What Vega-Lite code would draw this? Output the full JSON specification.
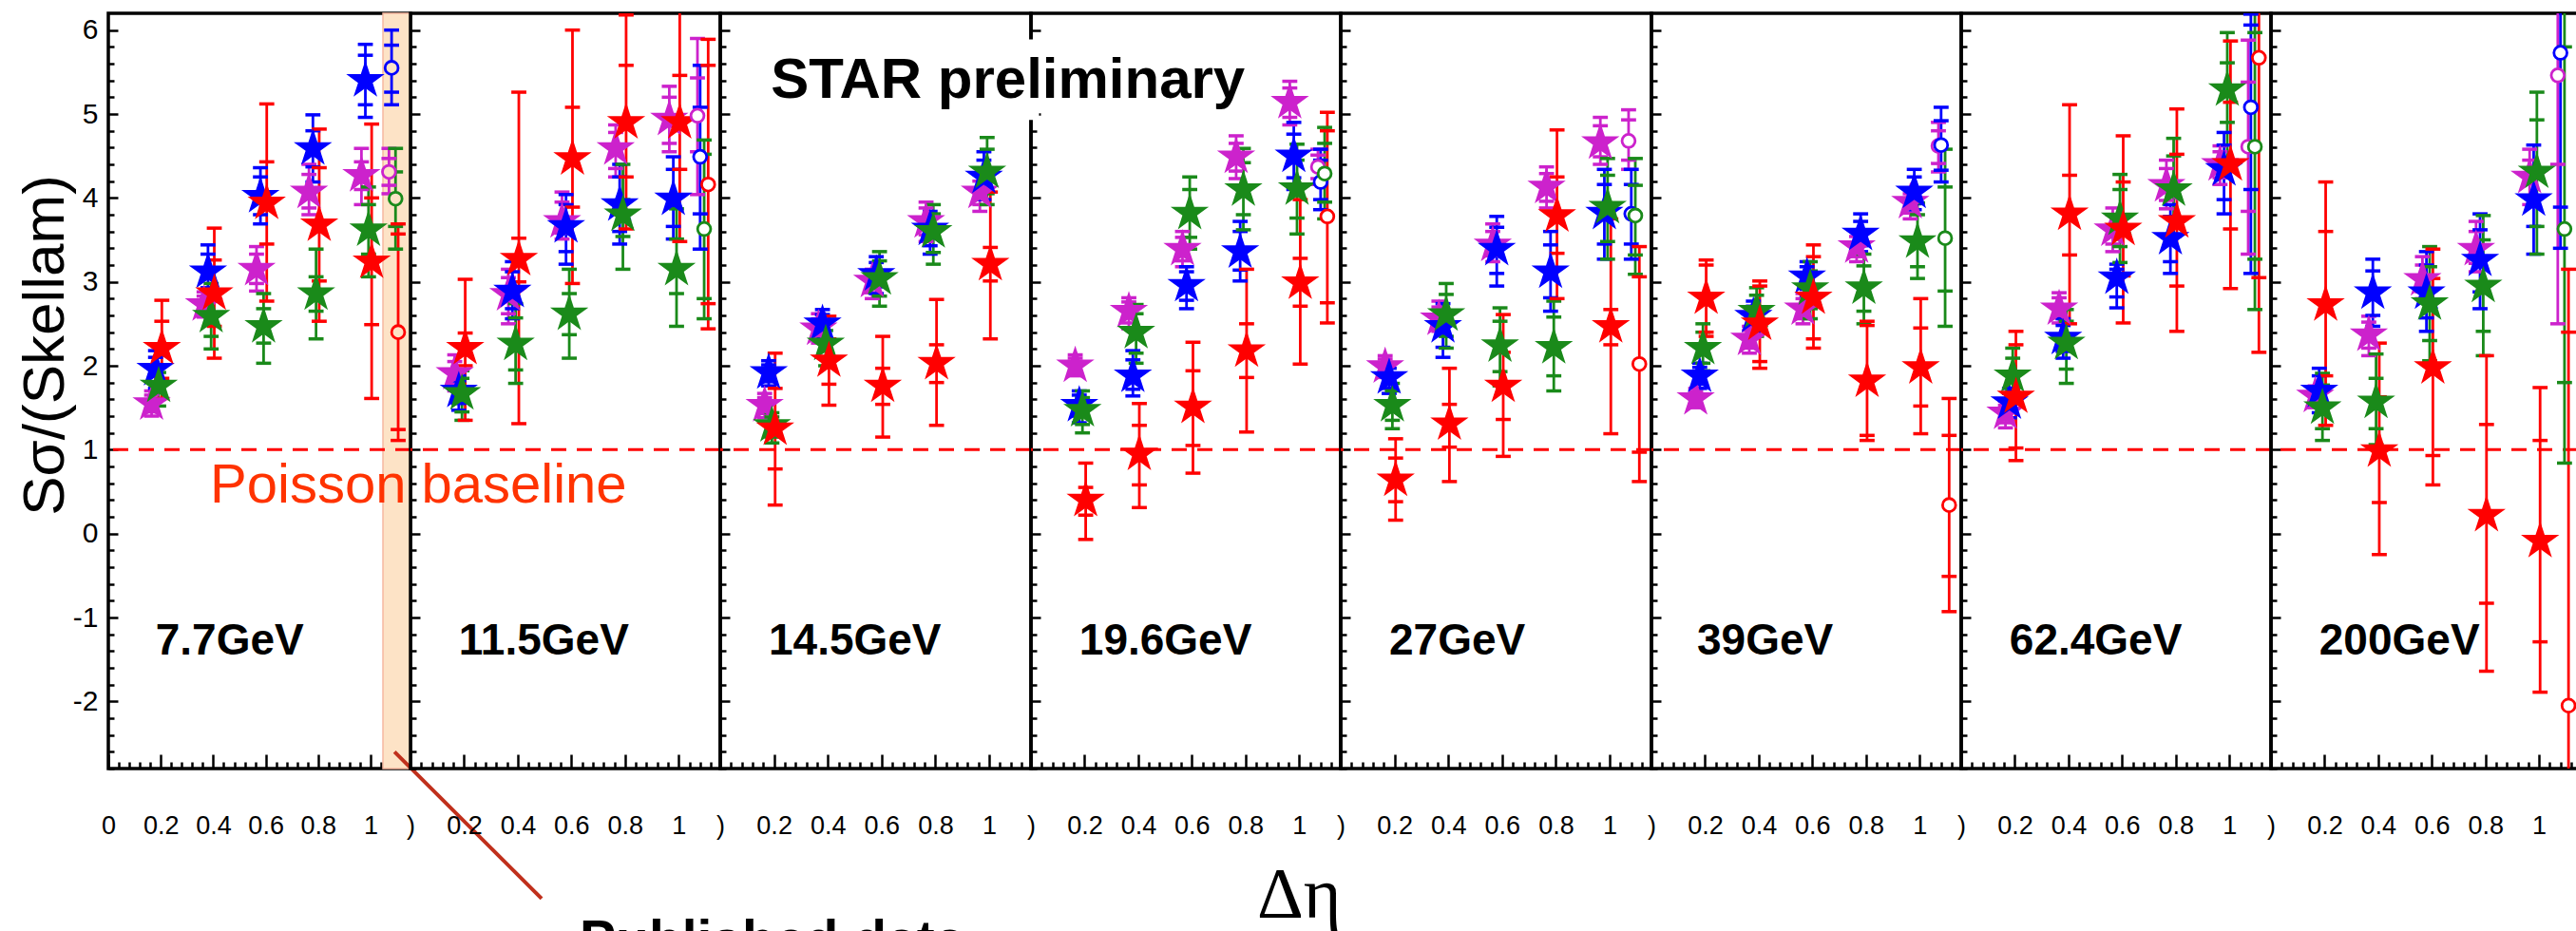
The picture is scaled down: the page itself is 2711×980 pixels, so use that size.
{
"$schema":"https://vega.github.io/schema/vega-lite/v6.json",
"background":"white",
"padding":{"left":14,"top":11,"right":0,"bottom":0},
"spacing":0,
"bounds":"flush",
"config":{"view":{"stroke":"black","strokeWidth":3.5},"font":"Liberation Sans",
 "axis":{"labelFont":"Liberation Sans","titleFont":"Liberation Sans","domain":false,"grid":false,"tickColor":"black","tickWidth":2.5,"labelFlush":false,"labelOverlap":false,"labelBound":false,"labelColor":"black"},
 "axisX":{"labelFontSize":27,"labelPadding":62},
 "axisY":{"labelFontSize":30,"labelPadding":21},
 "concat":{"spacing":0}},
"resolve":{"scale":{"x":"independent","y":"independent","color":"independent"}},
"datasets":{
"d77":[
{"s":"s1","p":0,"x":0.165,"y":1.55,"lo":1.40,"hi":1.70,"slo":1.45,"shi":1.65},
{"s":"s1","p":0,"x":0.365,"y":2.73,"lo":2.58,"hi":2.88,"slo":2.63,"shi":2.83},
{"s":"s1","p":0,"x":0.565,"y":3.15,"lo":2.89,"hi":3.42,"slo":2.98,"shi":3.33},
{"s":"s1","p":0,"x":0.765,"y":4.07,"lo":3.80,"hi":4.40,"slo":3.88,"shi":4.28},
{"s":"s1","p":0,"x":0.965,"y":4.27,"lo":3.92,"hi":4.59,"slo":4.10,"shi":4.43},
{"s":"s1","p":1,"x":1.07,"y":4.31,"lo":4.05,"hi":4.59,"slo":4.15,"shi":4.47},
{"s":"s2","p":0,"x":0.18,"y":1.96,"lo":1.73,"hi":2.18,"slo":1.81,"shi":2.10},
{"s":"s2","p":0,"x":0.38,"y":3.12,"lo":2.83,"hi":3.44,"slo":2.93,"shi":3.33},
{"s":"s2","p":0,"x":0.58,"y":4.02,"lo":3.69,"hi":4.36,"slo":3.80,"shi":4.25},
{"s":"s2","p":0,"x":0.78,"y":4.59,"lo":4.19,"hi":4.99,"slo":4.37,"shi":4.80},
{"s":"s2","p":0,"x":0.98,"y":5.40,"lo":4.96,"hi":5.83,"slo":5.11,"shi":5.70},
{"s":"s2","p":1,"x":1.08,"y":5.55,"lo":5.11,"hi":6.00,"slo":5.26,"shi":5.82},
{"s":"s3","p":0,"x":0.192,"y":1.76,"lo":1.52,"hi":2.00,"slo":1.60,"shi":1.92},
{"s":"s3","p":0,"x":0.392,"y":2.59,"lo":2.20,"hi":2.98,"slo":2.35,"shi":2.84},
{"s":"s3","p":0,"x":0.592,"y":2.47,"lo":2.03,"hi":2.86,"slo":2.27,"shi":2.68},
{"s":"s3","p":0,"x":0.792,"y":2.86,"lo":2.32,"hi":3.39,"slo":2.65,"shi":3.06},
{"s":"s3","p":0,"x":0.992,"y":3.62,"lo":3.06,"hi":4.13,"slo":3.33,"shi":3.92},
{"s":"s3","p":1,"x":1.095,"y":3.99,"lo":3.39,"hi":4.59,"slo":3.66,"shi":4.31},
{"s":"s4","p":0,"x":0.204,"y":2.21,"lo":1.61,"hi":2.78,"slo":1.85,"shi":2.53},
{"s":"s4","p":0,"x":0.404,"y":2.86,"lo":2.09,"hi":3.64,"slo":2.47,"shi":3.26},
{"s":"s4","p":0,"x":0.604,"y":3.94,"lo":2.77,"hi":5.12,"slo":3.45,"shi":4.43},
{"s":"s4","p":0,"x":0.804,"y":3.68,"lo":2.53,"hi":4.82,"slo":3.01,"shi":4.36},
{"s":"s4","p":0,"x":1.004,"y":3.24,"lo":1.61,"hi":4.88,"slo":2.49,"shi":4.00},
{"s":"s4","p":1,"x":1.105,"y":2.40,"lo":1.11,"hi":3.69,"slo":1.24,"shi":3.57}
],
"d115":[
{"s":"s1","p":0,"x":0.165,"y":1.91,"lo":1.70,"hi":2.13,"slo":1.78,"shi":2.05},
{"s":"s1","p":0,"x":0.365,"y":2.85,"lo":2.50,"hi":3.15,"slo":2.62,"shi":3.05},
{"s":"s1","p":0,"x":0.565,"y":3.72,"lo":3.51,"hi":4.07,"slo":3.58,"shi":3.95},
{"s":"s1","p":0,"x":0.765,"y":4.59,"lo":4.25,"hi":4.87,"slo":4.35,"shi":4.78},
{"s":"s1","p":0,"x":0.965,"y":4.94,"lo":4.55,"hi":5.33,"slo":4.65,"shi":5.20},
{"s":"s1","p":1,"x":1.07,"y":4.98,"lo":4.04,"hi":5.90,"slo":4.55,"shi":5.43},
{"s":"s2","p":0,"x":0.18,"y":1.70,"lo":1.47,"hi":1.88,"slo":1.55,"shi":1.82},
{"s":"s2","p":0,"x":0.38,"y":2.89,"lo":2.56,"hi":3.24,"slo":2.68,"shi":3.12},
{"s":"s2","p":0,"x":0.58,"y":3.66,"lo":3.21,"hi":4.04,"slo":3.36,"shi":3.92},
{"s":"s2","p":0,"x":0.78,"y":3.92,"lo":3.45,"hi":4.40,"slo":3.60,"shi":4.25},
{"s":"s2","p":0,"x":0.98,"y":3.99,"lo":3.51,"hi":4.49,"slo":3.66,"shi":4.34},
{"s":"s2","p":1,"x":1.08,"y":4.49,"lo":3.39,"hi":5.58,"slo":3.81,"shi":5.08},
{"s":"s3","p":0,"x":0.192,"y":1.67,"lo":1.35,"hi":1.94,"slo":1.45,"shi":1.85},
{"s":"s3","p":0,"x":0.392,"y":2.26,"lo":1.79,"hi":2.74,"slo":1.95,"shi":2.57},
{"s":"s3","p":0,"x":0.592,"y":2.62,"lo":2.09,"hi":3.15,"slo":2.37,"shi":2.86},
{"s":"s3","p":0,"x":0.792,"y":3.80,"lo":3.15,"hi":4.40,"slo":3.54,"shi":3.98},
{"s":"s3","p":0,"x":0.992,"y":3.15,"lo":2.47,"hi":3.87,"slo":2.86,"shi":3.51},
{"s":"s3","p":1,"x":1.095,"y":3.63,"lo":2.56,"hi":4.69,"slo":2.80,"shi":4.52},
{"s":"s4","p":0,"x":0.204,"y":2.21,"lo":1.35,"hi":3.03,"slo":2.00,"shi":2.39},
{"s":"s4","p":0,"x":0.404,"y":3.27,"lo":1.31,"hi":5.26,"slo":3.00,"shi":3.52},
{"s":"s4","p":0,"x":0.604,"y":4.47,"lo":2.98,"hi":6.00,"slo":3.89,"shi":5.08},
{"s":"s4","p":0,"x":0.804,"y":4.90,"lo":3.63,"hi":6.18,"slo":4.25,"shi":5.58},
{"s":"s4","p":0,"x":1.004,"y":4.90,"lo":3.48,"hi":6.40,"slo":4.34,"shi":5.46},
{"s":"s4","p":1,"x":1.11,"y":4.16,"lo":2.44,"hi":5.89,"slo":2.74,"shi":5.58}
],
"d145":[
{"s":"s1","p":0,"x":0.165,"y":1.53,"lo":1.38,"hi":1.67,"slo":1.43,"shi":1.62},
{"s":"s1","p":0,"x":0.365,"y":2.44,"lo":2.27,"hi":2.62,"slo":2.33,"shi":2.56},
{"s":"s1","p":0,"x":0.565,"y":3.01,"lo":2.80,"hi":3.15,"slo":2.87,"shi":3.10},
{"s":"s1","p":0,"x":0.765,"y":3.72,"lo":3.48,"hi":3.95,"slo":3.56,"shi":3.88},
{"s":"s1","p":0,"x":0.965,"y":4.07,"lo":3.84,"hi":4.28,"slo":3.92,"shi":4.20},
{"s":"s2","p":0,"x":0.18,"y":1.92,"lo":1.76,"hi":2.06,"slo":1.81,"shi":2.01},
{"s":"s2","p":0,"x":0.38,"y":2.50,"lo":2.32,"hi":2.67,"slo":2.38,"shi":2.61},
{"s":"s2","p":0,"x":0.58,"y":3.09,"lo":2.86,"hi":3.30,"slo":2.94,"shi":3.23},
{"s":"s2","p":0,"x":0.78,"y":3.63,"lo":3.33,"hi":3.84,"slo":3.43,"shi":3.76},
{"s":"s2","p":0,"x":0.98,"y":4.25,"lo":3.98,"hi":4.55,"slo":4.07,"shi":4.45},
{"s":"s3","p":0,"x":0.192,"y":1.29,"lo":1.08,"hi":1.44,"slo":1.15,"shi":1.39},
{"s":"s3","p":0,"x":0.392,"y":2.26,"lo":2.00,"hi":2.50,"slo":2.09,"shi":2.42},
{"s":"s3","p":0,"x":0.592,"y":3.04,"lo":2.71,"hi":3.36,"slo":2.83,"shi":3.25},
{"s":"s3","p":0,"x":0.792,"y":3.60,"lo":3.21,"hi":3.92,"slo":3.35,"shi":3.81},
{"s":"s3","p":0,"x":0.992,"y":4.31,"lo":3.92,"hi":4.72,"slo":4.05,"shi":4.58},
{"s":"s4","p":0,"x":0.204,"y":1.25,"lo":0.34,"hi":2.15,"slo":0.77,"shi":1.73},
{"s":"s4","p":0,"x":0.404,"y":2.06,"lo":1.53,"hi":2.59,"slo":1.78,"shi":2.32},
{"s":"s4","p":0,"x":0.604,"y":1.76,"lo":1.15,"hi":2.35,"slo":1.54,"shi":1.97},
{"s":"s4","p":0,"x":0.804,"y":2.03,"lo":1.29,"hi":2.79,"slo":1.80,"shi":2.25},
{"s":"s4","p":0,"x":1.004,"y":3.21,"lo":2.32,"hi":4.07,"slo":3.01,"shi":3.41}
],
"d196":[
{"s":"s1","p":0,"x":0.165,"y":2.00,"lo":1.88,"hi":2.13,"slo":1.92,"shi":2.09},
{"s":"s1","p":0,"x":0.365,"y":2.65,"lo":2.44,"hi":2.81,"slo":2.51,"shi":2.76},
{"s":"s1","p":0,"x":0.565,"y":3.39,"lo":3.18,"hi":3.60,"slo":3.25,"shi":3.53},
{"s":"s1","p":0,"x":0.765,"y":4.49,"lo":4.23,"hi":4.74,"slo":4.32,"shi":4.65},
{"s":"s1","p":0,"x":0.965,"y":5.14,"lo":4.87,"hi":5.39,"slo":4.96,"shi":5.31},
{"s":"s1","p":1,"x":1.07,"y":4.37,"lo":4.16,"hi":4.58,"slo":4.23,"shi":4.51},
{"s":"s2","p":0,"x":0.18,"y":1.53,"lo":1.32,"hi":1.70,"slo":1.40,"shi":1.65},
{"s":"s2","p":0,"x":0.38,"y":1.88,"lo":1.64,"hi":2.18,"slo":1.72,"shi":2.07},
{"s":"s2","p":0,"x":0.58,"y":2.96,"lo":2.68,"hi":3.18,"slo":2.78,"shi":3.12},
{"s":"s2","p":0,"x":0.78,"y":3.36,"lo":3.01,"hi":3.72,"slo":3.14,"shi":3.60},
{"s":"s2","p":0,"x":0.98,"y":4.50,"lo":4.10,"hi":4.90,"slo":4.24,"shi":4.76},
{"s":"s2","p":1,"x":1.08,"y":4.19,"lo":3.86,"hi":4.58,"slo":3.98,"shi":4.45},
{"s":"s3","p":0,"x":0.192,"y":1.47,"lo":1.20,"hi":1.70,"slo":1.30,"shi":1.62},
{"s":"s3","p":0,"x":0.392,"y":2.40,"lo":2.03,"hi":2.73,"slo":2.15,"shi":2.62},
{"s":"s3","p":0,"x":0.592,"y":3.82,"lo":3.39,"hi":4.25,"slo":3.53,"shi":4.10},
{"s":"s3","p":0,"x":0.792,"y":4.10,"lo":3.62,"hi":4.59,"slo":3.80,"shi":4.42},
{"s":"s3","p":0,"x":0.992,"y":4.11,"lo":3.57,"hi":4.64,"slo":3.76,"shi":4.45},
{"s":"s3","p":1,"x":1.095,"y":4.29,"lo":3.75,"hi":4.84,"slo":3.95,"shi":4.65},
{"s":"s4","p":0,"x":0.204,"y":0.40,"lo":-0.07,"hi":0.84,"slo":0.22,"shi":0.55},
{"s":"s4","p":0,"x":0.404,"y":0.95,"lo":0.31,"hi":1.55,"slo":0.58,"shi":1.29},
{"s":"s4","p":0,"x":0.604,"y":1.51,"lo":0.72,"hi":2.28,"slo":1.05,"shi":1.94},
{"s":"s4","p":0,"x":0.804,"y":2.18,"lo":1.21,"hi":3.15,"slo":1.86,"shi":2.50},
{"s":"s4","p":0,"x":1.004,"y":2.99,"lo":2.02,"hi":3.98,"slo":2.71,"shi":3.28},
{"s":"s4","p":1,"x":1.105,"y":3.78,"lo":2.51,"hi":5.02,"slo":2.75,"shi":4.80}
],
"d27":[
{"s":"s1","p":0,"x":0.165,"y":1.99,"lo":1.86,"hi":2.12,"slo":1.90,"shi":2.08},
{"s":"s1","p":0,"x":0.365,"y":2.56,"lo":2.41,"hi":2.77,"slo":2.46,"shi":2.70},
{"s":"s1","p":0,"x":0.565,"y":3.44,"lo":3.24,"hi":3.69,"slo":3.31,"shi":3.60},
{"s":"s1","p":0,"x":0.765,"y":4.13,"lo":3.88,"hi":4.37,"slo":3.96,"shi":4.29},
{"s":"s1","p":0,"x":0.965,"y":4.66,"lo":4.40,"hi":4.96,"slo":4.49,"shi":4.86},
{"s":"s1","p":1,"x":1.07,"y":4.68,"lo":4.34,"hi":5.05,"slo":4.45,"shi":4.93},
{"s":"s2","p":0,"x":0.18,"y":1.86,"lo":1.67,"hi":2.03,"slo":1.73,"shi":1.97},
{"s":"s2","p":0,"x":0.38,"y":2.47,"lo":2.10,"hi":2.74,"slo":2.22,"shi":2.65},
{"s":"s2","p":0,"x":0.58,"y":3.39,"lo":2.95,"hi":3.78,"slo":3.10,"shi":3.65},
{"s":"s2","p":0,"x":0.78,"y":3.12,"lo":2.65,"hi":3.60,"slo":2.81,"shi":3.44},
{"s":"s2","p":0,"x":0.98,"y":3.82,"lo":3.27,"hi":4.34,"slo":3.45,"shi":4.16},
{"s":"s2","p":1,"x":1.08,"y":3.81,"lo":3.27,"hi":4.34,"slo":3.45,"shi":4.16},
{"s":"s3","p":0,"x":0.192,"y":1.53,"lo":1.25,"hi":1.79,"slo":1.35,"shi":1.70},
{"s":"s3","p":0,"x":0.392,"y":2.61,"lo":2.21,"hi":2.98,"slo":2.35,"shi":2.85},
{"s":"s3","p":0,"x":0.592,"y":2.24,"lo":1.76,"hi":2.69,"slo":1.93,"shi":2.53},
{"s":"s3","p":0,"x":0.792,"y":2.22,"lo":1.70,"hi":2.77,"slo":1.88,"shi":2.58},
{"s":"s3","p":0,"x":0.992,"y":3.89,"lo":3.27,"hi":4.47,"slo":3.48,"shi":4.27},
{"s":"s3","p":1,"x":1.095,"y":3.79,"lo":3.09,"hi":4.47,"slo":3.32,"shi":4.15},
{"s":"s4","p":0,"x":0.204,"y":0.64,"lo":0.16,"hi":1.13,"slo":0.38,"shi":0.90},
{"s":"s4","p":0,"x":0.404,"y":1.31,"lo":0.62,"hi":1.97,"slo":1.03,"shi":1.54},
{"s":"s4","p":0,"x":0.604,"y":1.76,"lo":0.92,"hi":2.61,"slo":1.36,"shi":2.16},
{"s":"s4","p":0,"x":0.804,"y":3.79,"lo":2.80,"hi":4.81,"slo":3.34,"shi":4.25},
{"s":"s4","p":0,"x":1.004,"y":2.47,"lo":1.19,"hi":3.75,"slo":2.25,"shi":2.67},
{"s":"s4","p":1,"x":1.11,"y":2.02,"lo":0.62,"hi":3.42,"slo":0.97,"shi":3.06}
],
"d39":[
{"s":"s1","p":0,"x":0.165,"y":1.61,"lo":1.50,"hi":1.73,"slo":1.54,"shi":1.69},
{"s":"s1","p":0,"x":0.365,"y":2.32,"lo":2.15,"hi":2.47,"slo":2.21,"shi":2.42},
{"s":"s1","p":0,"x":0.565,"y":2.68,"lo":2.50,"hi":2.86,"slo":2.56,"shi":2.80},
{"s":"s1","p":0,"x":0.765,"y":3.42,"lo":3.24,"hi":3.60,"slo":3.30,"shi":3.54},
{"s":"s1","p":0,"x":0.965,"y":3.95,"lo":3.75,"hi":4.10,"slo":3.82,"shi":4.05},
{"s":"s1","p":1,"x":1.07,"y":4.62,"lo":4.31,"hi":4.90,"slo":4.41,"shi":4.80},
{"s":"s2","p":0,"x":0.18,"y":1.88,"lo":1.73,"hi":2.03,"slo":1.78,"shi":1.98},
{"s":"s2","p":0,"x":0.38,"y":2.59,"lo":2.41,"hi":2.77,"slo":2.47,"shi":2.71},
{"s":"s2","p":0,"x":0.58,"y":3.06,"lo":2.83,"hi":3.24,"slo":2.91,"shi":3.18},
{"s":"s2","p":0,"x":0.78,"y":3.57,"lo":3.36,"hi":3.81,"slo":3.43,"shi":3.72},
{"s":"s2","p":0,"x":0.98,"y":4.07,"lo":3.86,"hi":4.34,"slo":3.93,"shi":4.25},
{"s":"s2","p":1,"x":1.08,"y":4.63,"lo":4.19,"hi":5.08,"slo":4.33,"shi":4.92},
{"s":"s3","p":0,"x":0.192,"y":2.21,"lo":1.94,"hi":2.50,"slo":2.03,"shi":2.40},
{"s":"s3","p":0,"x":0.392,"y":2.65,"lo":2.35,"hi":2.93,"slo":2.45,"shi":2.84},
{"s":"s3","p":0,"x":0.592,"y":2.92,"lo":2.56,"hi":3.24,"slo":2.68,"shi":3.13},
{"s":"s3","p":0,"x":0.792,"y":2.93,"lo":2.50,"hi":3.33,"slo":2.65,"shi":3.19},
{"s":"s3","p":0,"x":0.992,"y":3.48,"lo":3.04,"hi":3.94,"slo":3.18,"shi":3.80},
{"s":"s3","p":1,"x":1.095,"y":3.52,"lo":2.47,"hi":4.58,"slo":2.89,"shi":4.13},
{"s":"s4","p":0,"x":0.204,"y":2.81,"lo":2.35,"hi":3.26,"slo":2.40,"shi":3.20},
{"s":"s4","p":0,"x":0.404,"y":2.50,"lo":1.97,"hi":3.01,"slo":2.05,"shi":2.95},
{"s":"s4","p":0,"x":0.604,"y":2.81,"lo":2.21,"hi":3.44,"slo":2.32,"shi":3.30},
{"s":"s4","p":0,"x":0.804,"y":1.82,"lo":1.11,"hi":2.53,"slo":1.17,"shi":2.48},
{"s":"s4","p":0,"x":1.004,"y":1.98,"lo":1.19,"hi":2.80,"slo":1.52,"shi":2.45},
{"s":"s4","p":1,"x":1.11,"y":0.34,"lo":-0.93,"hi":1.61,"slo":-0.51,"shi":1.17}
],
"d624":[
{"s":"s1","p":0,"x":0.165,"y":1.44,"lo":1.26,"hi":1.58,"slo":1.32,"shi":1.53},
{"s":"s1","p":0,"x":0.365,"y":2.68,"lo":2.51,"hi":2.87,"slo":2.57,"shi":2.81},
{"s":"s1","p":0,"x":0.565,"y":3.62,"lo":3.36,"hi":3.88,"slo":3.45,"shi":3.80},
{"s":"s1","p":0,"x":0.765,"y":4.15,"lo":3.87,"hi":4.45,"slo":3.97,"shi":4.35},
{"s":"s1","p":0,"x":0.965,"y":4.40,"lo":4.16,"hi":4.62,"slo":4.24,"shi":4.55},
{"s":"s1","p":1,"x":1.07,"y":4.61,"lo":3.33,"hi":5.88,"slo":3.84,"shi":5.38},
{"s":"s2","p":0,"x":0.18,"y":1.56,"lo":1.38,"hi":1.73,"slo":1.44,"shi":1.67},
{"s":"s2","p":0,"x":0.38,"y":2.33,"lo":2.09,"hi":2.56,"slo":2.17,"shi":2.48},
{"s":"s2","p":0,"x":0.58,"y":3.05,"lo":2.69,"hi":3.21,"slo":2.82,"shi":3.15},
{"s":"s2","p":0,"x":0.78,"y":3.52,"lo":3.10,"hi":3.92,"slo":3.24,"shi":3.78},
{"s":"s2","p":0,"x":0.98,"y":4.34,"lo":3.81,"hi":4.78,"slo":3.98,"shi":4.63},
{"s":"s2","p":1,"x":1.08,"y":5.08,"lo":3.10,"hi":6.19,"slo":4.10,"shi":6.06},
{"s":"s3","p":0,"x":0.192,"y":1.88,"lo":1.61,"hi":2.21,"slo":1.71,"shi":2.09},
{"s":"s3","p":0,"x":0.392,"y":2.27,"lo":1.79,"hi":2.67,"slo":1.96,"shi":2.53},
{"s":"s3","p":0,"x":0.592,"y":3.75,"lo":3.23,"hi":4.28,"slo":3.42,"shi":4.10},
{"s":"s3","p":0,"x":0.792,"y":4.10,"lo":3.54,"hi":4.71,"slo":3.75,"shi":4.50},
{"s":"s3","p":0,"x":0.992,"y":5.29,"lo":4.40,"hi":5.97,"slo":4.90,"shi":5.61},
{"s":"s3","p":1,"x":1.095,"y":4.61,"lo":2.67,"hi":6.40,"slo":3.27,"shi":5.97},
{"s":"s4","p":0,"x":0.204,"y":1.63,"lo":0.87,"hi":2.41,"slo":1.02,"shi":2.25},
{"s":"s4","p":0,"x":0.404,"y":3.81,"lo":2.50,"hi":5.11,"slo":3.32,"shi":4.27},
{"s":"s4","p":0,"x":0.604,"y":3.63,"lo":2.51,"hi":4.74,"slo":3.07,"shi":4.19},
{"s":"s4","p":0,"x":0.804,"y":3.72,"lo":2.41,"hi":5.06,"slo":2.95,"shi":4.52},
{"s":"s4","p":0,"x":1.004,"y":4.40,"lo":2.92,"hi":5.87,"slo":3.63,"shi":5.14},
{"s":"s4","p":1,"x":1.11,"y":5.67,"lo":2.16,"hi":6.50,"slo":3.05,"shi":6.30}
],
"d200":[
{"s":"s1","p":0,"x":0.165,"y":1.64,"lo":1.50,"hi":1.76,"slo":1.54,"shi":1.72},
{"s":"s1","p":0,"x":0.365,"y":2.37,"lo":2.12,"hi":2.59,"slo":2.21,"shi":2.52},
{"s":"s1","p":0,"x":0.565,"y":3.03,"lo":2.80,"hi":3.30,"slo":2.88,"shi":3.20},
{"s":"s1","p":0,"x":0.765,"y":3.39,"lo":3.12,"hi":3.72,"slo":3.22,"shi":3.60},
{"s":"s1","p":0,"x":0.965,"y":4.25,"lo":3.92,"hi":4.58,"slo":4.03,"shi":4.45},
{"s":"s1","p":1,"x":1.07,"y":5.46,"lo":2.50,"hi":6.50,"slo":4.40,"shi":6.30},
{"s":"s2","p":0,"x":0.18,"y":1.70,"lo":1.44,"hi":1.97,"slo":1.52,"shi":1.88},
{"s":"s2","p":0,"x":0.38,"y":2.87,"lo":2.47,"hi":3.27,"slo":2.60,"shi":3.13},
{"s":"s2","p":0,"x":0.58,"y":2.87,"lo":2.41,"hi":3.36,"slo":2.57,"shi":3.20},
{"s":"s2","p":0,"x":0.78,"y":3.26,"lo":2.68,"hi":3.81,"slo":2.88,"shi":3.62},
{"s":"s2","p":0,"x":0.98,"y":3.98,"lo":3.33,"hi":4.63,"slo":3.66,"shi":4.31},
{"s":"s2","p":1,"x":1.08,"y":5.73,"lo":3.40,"hi":6.50,"slo":3.89,"shi":6.30},
{"s":"s3","p":0,"x":0.192,"y":1.50,"lo":1.11,"hi":1.91,"slo":1.25,"shi":1.77},
{"s":"s3","p":0,"x":0.392,"y":1.57,"lo":1.06,"hi":2.14,"slo":1.25,"shi":1.85},
{"s":"s3","p":0,"x":0.592,"y":2.74,"lo":2.06,"hi":3.42,"slo":2.30,"shi":3.18},
{"s":"s3","p":0,"x":0.792,"y":2.95,"lo":2.12,"hi":3.79,"slo":2.41,"shi":3.50},
{"s":"s3","p":0,"x":0.992,"y":4.31,"lo":3.33,"hi":5.26,"slo":3.66,"shi":4.93},
{"s":"s3","p":1,"x":1.095,"y":3.63,"lo":0.84,"hi":6.40,"slo":1.80,"shi":5.80},
{"s":"s4","p":0,"x":0.204,"y":2.73,"lo":1.29,"hi":4.19,"slo":1.88,"shi":3.60},
{"s":"s4","p":0,"x":0.404,"y":0.99,"lo":-0.25,"hi":2.27,"slo":0.37,"shi":1.63},
{"s":"s4","p":0,"x":0.604,"y":1.98,"lo":0.58,"hi":3.39,"slo":0.93,"shi":3.04},
{"s":"s4","p":0,"x":0.804,"y":0.22,"lo":-1.64,"hi":2.12,"slo":-0.83,"shi":1.30},
{"s":"s4","p":0,"x":1.004,"y":-0.09,"lo":-1.89,"hi":1.74,"slo":-1.29,"shi":1.11},
{"s":"s4","p":1,"x":1.11,"y":-2.05,"lo":-3.2,"hi":3.15,"slo":-3.1,"shi":2.40}
]
},
"hconcat":[
{"width":318,"height":795,"resolve":{"axis":{"x":"independent","y":"independent"}},"layer":[
 {"data":{"values":[{}]},"mark":{"type":"rect","fill":"#FDE3C6","stroke":"#F6B8A0","strokeWidth":1.5},"encoding":{"x":{"datum":1.047,"type":"quantitative","axis":null},"x2":{"datum":1.152},"y":{"datum":-2.8,"type":"quantitative","axis":null},"y2":{"datum":6.2}}},
 {"data":{"values":[{}]},"mark":{"type":"rule","color":"#FF0000","strokeWidth":3,"strokeDash":[16,11]},"encoding":{"y":{"datum":1,"type":"quantitative","axis":null}}},
 {"data":{"name":"d77"},"mark":{"type":"rule","strokeWidth":2.8,"clip":true},"encoding":{
   "x":{"field":"x","type":"quantitative","scale":{"domain":[0,1.152],"nice":false,"zero":false},"axis":{"title":null,"orient":"bottom","values":[0,0.2,0.4,0.6,0.8,1],"tickSize":-15,"labelExpr":"''+datum.value"}},
   "y":{"field":"lo","type":"quantitative","scale":{"domain":[-2.8,6.2],"nice":false,"zero":false},"axis":{"title":"Sσ/(Skellam)","orient":"left","values":[-2,-1,0,1,2,3,4,5,6],"tickSize":-10,"labelExpr":"''+datum.value","titleFontSize":62,"titleFontWeight":"normal","titleColor":"black","titleX":-48,"titleY":349,"titleAngle":-90,"titleBaseline":"alphabetic","titleAlign":"center"}},
   "y2":{"field":"hi"},
   "color":{"field":"s","type":"nominal","scale":{"domain":["s1","s2","s3","s4"],"range":["#CC22CC","#0000FF","#1A8A1A","#FF0000"]},"legend":null}}},
 {"data":{"name":"d77"},"transform":[{"fold":["lo","hi","slo","shi"],"as":["k","v"]}],"mark":{"type":"point","shape":"M-1,0L1,0","size":250,"strokeWidth":3.5,"filled":false,"opacity":1,"clip":true},"encoding":{
   "x":{"field":"x","type":"quantitative","axis":{"title":null,"orient":"bottom","values":[0.04,0.08,0.12,0.16,0.24,0.28,0.32,0.36,0.44,0.48,0.52,0.56,0.64,0.68,0.72,0.76,0.84,0.88,0.92,0.96,1.04,1.08,1.12],"tickSize":-7,"labels":false}},
   "y":{"field":"v","type":"quantitative","axis":{"title":null,"orient":"left","values":[-2.8,-2.6,-2.4,-2.2,-1.8,-1.6,-1.4,-1.2,-0.8,-0.6,-0.4,-0.2,0.2,0.4,0.6,0.8,1.2,1.4,1.6,1.8,2.2,2.4,2.6,2.8,3.2,3.4,3.6,3.8,4.2,4.4,4.6,4.8,5.2,5.4,5.6,5.8],"tickSize":-6,"labels":false}},
   "color":{"field":"s","type":"nominal","legend":null}}},
 {"data":{"name":"d77"},"transform":[{"filter":"datum.p==0"}],"mark":{"type":"point","shape":"M0,-1L0.225,-0.309L0.951,-0.309L0.363,0.118L0.588,0.809L0,0.382L-0.588,0.809L-0.363,0.118L-0.951,-0.309L-0.225,-0.309Z","size":1800,"filled":true,"opacity":1},"encoding":{"x":{"field":"x","type":"quantitative","axis":null},"y":{"field":"y","type":"quantitative","axis":null},"color":{"field":"s","type":"nominal","legend":null}}},
 {"data":{"name":"d77"},"transform":[{"filter":"datum.p==1"}],"mark":{"type":"point","shape":"circle","size":190,"filled":false,"fill":"#FDE3C6","strokeWidth":2.8,"opacity":1,"clip":true},"encoding":{"x":{"field":"x","type":"quantitative","axis":null},"y":{"field":"y","type":"quantitative","axis":null},"color":{"field":"s","type":"nominal","legend":null}}},
 {"data":{"values":[{}]},"mark":{"type":"text","text":"7.7GeV","fontSize":46,"fontWeight":"bold","align":"left","baseline":"alphabetic","color":"black"},"encoding":{"x":{"datum":0.18,"type":"quantitative","axis":null},"y":{"datum":-1.44,"type":"quantitative","axis":null}}},
 {"data":{"values":[{}]},"mark":{"type":"text","text":"Poisson baseline","fontSize":58,"align":"left","baseline":"alphabetic","color":"#FF3300"},"encoding":{"x":{"datum":0.388,"type":"quantitative","axis":null},"y":{"datum":0.37,"type":"quantitative","axis":null}}},
 {"data":{"values":[{}]},"mark":{"type":"rule","color":"#C0301C","strokeWidth":4},"encoding":{"x":{"datum":1.091,"type":"quantitative","axis":null},"x2":{"datum":1.652},"y":{"datum":-2.6,"type":"quantitative","axis":null},"y2":{"datum":-4.35}}},
 {"data":{"values":[{}]},"mark":{"type":"text","text":"Published data","fontSize":57,"fontWeight":"bold","align":"left","baseline":"alphabetic","color":"black"},"encoding":{"x":{"datum":1.797,"type":"quantitative","axis":null},"y":{"datum":-5.06,"type":"quantitative","axis":null}}}
]},
{"width":326,"height":795,"resolve":{"axis":{"x":"independent","y":"independent"}},"layer":[
 {"data":{"values":[{}]},"mark":{"type":"rule","color":"#FF0000","strokeWidth":3,"strokeDash":[16,11]},"encoding":{"y":{"datum":1,"type":"quantitative","axis":null}}},
 {"data":{"name":"d115"},"mark":{"type":"rule","strokeWidth":2.8,"clip":true},"encoding":{
   "x":{"field":"x","type":"quantitative","scale":{"domain":[0,1.155],"nice":false,"zero":false},"axis":{"title":null,"orient":"bottom","values":[0,0.2,0.4,0.6,0.8,1],"tickSize":-15,"labelExpr":"datum.value==0 ? ')' : ''+datum.value"}},
   "y":{"field":"lo","type":"quantitative","scale":{"domain":[-2.8,6.2],"nice":false,"zero":false},"axis":{"title":null,"orient":"left","values":[-2,-1,0,1,2,3,4,5,6],"tickSize":-10,"labels":false}},
   "y2":{"field":"hi"},
   "color":{"field":"s","type":"nominal","scale":{"domain":["s1","s2","s3","s4"],"range":["#CC22CC","#0000FF","#1A8A1A","#FF0000"]},"legend":null}}},
 {"data":{"name":"d115"},"transform":[{"fold":["lo","hi","slo","shi"],"as":["k","v"]}],"mark":{"type":"point","shape":"M-1,0L1,0","size":250,"strokeWidth":3.5,"filled":false,"opacity":1,"clip":true},"encoding":{
   "x":{"field":"x","type":"quantitative","axis":{"title":null,"orient":"bottom","values":[0.04,0.08,0.12,0.16,0.24,0.28,0.32,0.36,0.44,0.48,0.52,0.56,0.64,0.68,0.72,0.76,0.84,0.88,0.92,0.96,1.04,1.08,1.12],"tickSize":-7,"labels":false}},
   "y":{"field":"v","type":"quantitative","axis":{"title":null,"orient":"left","values":[-2.8,-2.6,-2.4,-2.2,-1.8,-1.6,-1.4,-1.2,-0.8,-0.6,-0.4,-0.2,0.2,0.4,0.6,0.8,1.2,1.4,1.6,1.8,2.2,2.4,2.6,2.8,3.2,3.4,3.6,3.8,4.2,4.4,4.6,4.8,5.2,5.4,5.6,5.8],"tickSize":-6,"labels":false}},
   "color":{"field":"s","type":"nominal","legend":null}}},
 {"data":{"name":"d115"},"transform":[{"filter":"datum.p==0"}],"mark":{"type":"point","shape":"M0,-1L0.225,-0.309L0.951,-0.309L0.363,0.118L0.588,0.809L0,0.382L-0.588,0.809L-0.363,0.118L-0.951,-0.309L-0.225,-0.309Z","size":1800,"filled":true,"opacity":1},"encoding":{"x":{"field":"x","type":"quantitative","axis":null},"y":{"field":"y","type":"quantitative","axis":null},"color":{"field":"s","type":"nominal","legend":null}}},
 {"data":{"name":"d115"},"transform":[{"filter":"datum.p==1"}],"mark":{"type":"point","shape":"circle","size":190,"filled":false,"fill":"white","strokeWidth":2.8,"opacity":1,"clip":true},"encoding":{"x":{"field":"x","type":"quantitative","axis":null},"y":{"field":"y","type":"quantitative","axis":null},"color":{"field":"s","type":"nominal","legend":null}}},
 {"data":{"values":[{}]},"mark":{"type":"text","text":"11.5GeV","fontSize":46,"fontWeight":"bold","align":"left","baseline":"alphabetic","color":"black"},"encoding":{"x":{"datum":0.18,"type":"quantitative","axis":null},"y":{"datum":-1.44,"type":"quantitative","axis":null}}}
]},
{"width":327,"height":795,"resolve":{"axis":{"x":"independent","y":"independent"}},"layer":[
 {"data":{"values":[{}]},"mark":{"type":"rule","color":"#FF0000","strokeWidth":3,"strokeDash":[16,11]},"encoding":{"y":{"datum":1,"type":"quantitative","axis":null}}},
 {"data":{"name":"d145"},"mark":{"type":"rule","strokeWidth":2.8,"clip":true},"encoding":{
   "x":{"field":"x","type":"quantitative","scale":{"domain":[0,1.155],"nice":false,"zero":false},"axis":{"title":null,"orient":"bottom","values":[0,0.2,0.4,0.6,0.8,1],"tickSize":-15,"labelExpr":"datum.value==0 ? ')' : ''+datum.value"}},
   "y":{"field":"lo","type":"quantitative","scale":{"domain":[-2.8,6.2],"nice":false,"zero":false},"axis":{"title":null,"orient":"left","values":[-2,-1,0,1,2,3,4,5,6],"tickSize":-10,"labels":false}},
   "y2":{"field":"hi"},
   "color":{"field":"s","type":"nominal","scale":{"domain":["s1","s2","s3","s4"],"range":["#CC22CC","#0000FF","#1A8A1A","#FF0000"]},"legend":null}}},
 {"data":{"name":"d145"},"transform":[{"fold":["lo","hi","slo","shi"],"as":["k","v"]}],"mark":{"type":"point","shape":"M-1,0L1,0","size":250,"strokeWidth":3.5,"filled":false,"opacity":1,"clip":true},"encoding":{
   "x":{"field":"x","type":"quantitative","axis":{"title":null,"orient":"bottom","values":[0.04,0.08,0.12,0.16,0.24,0.28,0.32,0.36,0.44,0.48,0.52,0.56,0.64,0.68,0.72,0.76,0.84,0.88,0.92,0.96,1.04,1.08,1.12],"tickSize":-7,"labels":false}},
   "y":{"field":"v","type":"quantitative","axis":{"title":null,"orient":"left","values":[-2.8,-2.6,-2.4,-2.2,-1.8,-1.6,-1.4,-1.2,-0.8,-0.6,-0.4,-0.2,0.2,0.4,0.6,0.8,1.2,1.4,1.6,1.8,2.2,2.4,2.6,2.8,3.2,3.4,3.6,3.8,4.2,4.4,4.6,4.8,5.2,5.4,5.6,5.8],"tickSize":-6,"labels":false}},
   "color":{"field":"s","type":"nominal","legend":null}}},
 {"data":{"name":"d145"},"transform":[{"filter":"datum.p==0"}],"mark":{"type":"point","shape":"M0,-1L0.225,-0.309L0.951,-0.309L0.363,0.118L0.588,0.809L0,0.382L-0.588,0.809L-0.363,0.118L-0.951,-0.309L-0.225,-0.309Z","size":1800,"filled":true,"opacity":1},"encoding":{"x":{"field":"x","type":"quantitative","axis":null},"y":{"field":"y","type":"quantitative","axis":null},"color":{"field":"s","type":"nominal","legend":null}}},
 {"data":{"values":[{}]},"mark":{"type":"text","text":"14.5GeV","fontSize":46,"fontWeight":"bold","align":"left","baseline":"alphabetic","color":"black"},"encoding":{"x":{"datum":0.18,"type":"quantitative","axis":null},"y":{"datum":-1.44,"type":"quantitative","axis":null}}}
]},
{"width":326,"height":795,"resolve":{"axis":{"x":"independent","y":"independent"}},"layer":[
 {"data":{"values":[{}]},"mark":{"type":"rule","color":"#FF0000","strokeWidth":3,"strokeDash":[16,11]},"encoding":{"y":{"datum":1,"type":"quantitative","axis":null}}},
 {"data":{"name":"d196"},"mark":{"type":"rule","strokeWidth":2.8,"clip":true},"encoding":{
   "x":{"field":"x","type":"quantitative","scale":{"domain":[0,1.155],"nice":false,"zero":false},"axis":{"title":null,"orient":"bottom","values":[0,0.2,0.4,0.6,0.8,1],"tickSize":-15,"labelExpr":"datum.value==0 ? ')' : ''+datum.value"}},
   "y":{"field":"lo","type":"quantitative","scale":{"domain":[-2.8,6.2],"nice":false,"zero":false},"axis":{"title":null,"orient":"left","values":[-2,-1,0,1,2,3,4,5,6],"tickSize":-10,"labels":false}},
   "y2":{"field":"hi"},
   "color":{"field":"s","type":"nominal","scale":{"domain":["s1","s2","s3","s4"],"range":["#CC22CC","#0000FF","#1A8A1A","#FF0000"]},"legend":null}}},
 {"data":{"name":"d196"},"transform":[{"fold":["lo","hi","slo","shi"],"as":["k","v"]}],"mark":{"type":"point","shape":"M-1,0L1,0","size":250,"strokeWidth":3.5,"filled":false,"opacity":1,"clip":true},"encoding":{
   "x":{"field":"x","type":"quantitative","axis":{"title":null,"orient":"bottom","values":[0.04,0.08,0.12,0.16,0.24,0.28,0.32,0.36,0.44,0.48,0.52,0.56,0.64,0.68,0.72,0.76,0.84,0.88,0.92,0.96,1.04,1.08,1.12],"tickSize":-7,"labels":false}},
   "y":{"field":"v","type":"quantitative","axis":{"title":null,"orient":"left","values":[-2.8,-2.6,-2.4,-2.2,-1.8,-1.6,-1.4,-1.2,-0.8,-0.6,-0.4,-0.2,0.2,0.4,0.6,0.8,1.2,1.4,1.6,1.8,2.2,2.4,2.6,2.8,3.2,3.4,3.6,3.8,4.2,4.4,4.6,4.8,5.2,5.4,5.6,5.8],"tickSize":-6,"labels":false}},
   "color":{"field":"s","type":"nominal","legend":null}}},
 {"data":{"name":"d196"},"transform":[{"filter":"datum.p==0"}],"mark":{"type":"point","shape":"M0,-1L0.225,-0.309L0.951,-0.309L0.363,0.118L0.588,0.809L0,0.382L-0.588,0.809L-0.363,0.118L-0.951,-0.309L-0.225,-0.309Z","size":1800,"filled":true,"opacity":1},"encoding":{"x":{"field":"x","type":"quantitative","axis":null},"y":{"field":"y","type":"quantitative","axis":null},"color":{"field":"s","type":"nominal","legend":null}}},
 {"data":{"name":"d196"},"transform":[{"filter":"datum.p==1"}],"mark":{"type":"point","shape":"circle","size":190,"filled":false,"fill":"white","strokeWidth":2.8,"opacity":1,"clip":true},"encoding":{"x":{"field":"x","type":"quantitative","axis":null},"y":{"field":"y","type":"quantitative","axis":null},"color":{"field":"s","type":"nominal","legend":null}}},
 {"data":{"values":[{}]},"mark":{"type":"text","text":"19.6GeV","fontSize":46,"fontWeight":"bold","align":"left","baseline":"alphabetic","color":"black"},"encoding":{"x":{"datum":0.18,"type":"quantitative","axis":null},"y":{"datum":-1.44,"type":"quantitative","axis":null}}},
 {"data":{"values":[{}]},"mark":{"type":"rect","fill":"white"},"encoding":{"x":{"datum":-0.03,"type":"quantitative","axis":null},"x2":{"datum":0.03},"y":{"datum":4.93,"type":"quantitative","axis":null},"y2":{"datum":5.89}}},
 {"data":{"values":[{}]},"mark":{"type":"text","text":"STAR preliminary","fontSize":60,"fontWeight":"bold","align":"left","baseline":"alphabetic","color":"black"},"encoding":{"x":{"datum":-0.97,"type":"quantitative","axis":null},"y":{"datum":5.19,"type":"quantitative","axis":null}}},
 {"data":{"values":[{}]},"mark":{"type":"text","text":"Δη","font":"Liberation Serif","fontSize":76,"align":"center","baseline":"alphabetic","color":"black"},"encoding":{"x":{"datum":1.0,"type":"quantitative","axis":null},"y":{"datum":-4.58,"type":"quantitative","axis":null}}}
]},
{"width":327,"height":795,"resolve":{"axis":{"x":"independent","y":"independent"}},"layer":[
 {"data":{"values":[{}]},"mark":{"type":"rule","color":"#FF0000","strokeWidth":3,"strokeDash":[16,11]},"encoding":{"y":{"datum":1,"type":"quantitative","axis":null}}},
 {"data":{"name":"d27"},"mark":{"type":"rule","strokeWidth":2.8,"clip":true},"encoding":{
   "x":{"field":"x","type":"quantitative","scale":{"domain":[0,1.155],"nice":false,"zero":false},"axis":{"title":null,"orient":"bottom","values":[0,0.2,0.4,0.6,0.8,1],"tickSize":-15,"labelExpr":"datum.value==0 ? ')' : ''+datum.value"}},
   "y":{"field":"lo","type":"quantitative","scale":{"domain":[-2.8,6.2],"nice":false,"zero":false},"axis":{"title":null,"orient":"left","values":[-2,-1,0,1,2,3,4,5,6],"tickSize":-10,"labels":false}},
   "y2":{"field":"hi"},
   "color":{"field":"s","type":"nominal","scale":{"domain":["s1","s2","s3","s4"],"range":["#CC22CC","#0000FF","#1A8A1A","#FF0000"]},"legend":null}}},
 {"data":{"name":"d27"},"transform":[{"fold":["lo","hi","slo","shi"],"as":["k","v"]}],"mark":{"type":"point","shape":"M-1,0L1,0","size":250,"strokeWidth":3.5,"filled":false,"opacity":1,"clip":true},"encoding":{
   "x":{"field":"x","type":"quantitative","axis":{"title":null,"orient":"bottom","values":[0.04,0.08,0.12,0.16,0.24,0.28,0.32,0.36,0.44,0.48,0.52,0.56,0.64,0.68,0.72,0.76,0.84,0.88,0.92,0.96,1.04,1.08,1.12],"tickSize":-7,"labels":false}},
   "y":{"field":"v","type":"quantitative","axis":{"title":null,"orient":"left","values":[-2.8,-2.6,-2.4,-2.2,-1.8,-1.6,-1.4,-1.2,-0.8,-0.6,-0.4,-0.2,0.2,0.4,0.6,0.8,1.2,1.4,1.6,1.8,2.2,2.4,2.6,2.8,3.2,3.4,3.6,3.8,4.2,4.4,4.6,4.8,5.2,5.4,5.6,5.8],"tickSize":-6,"labels":false}},
   "color":{"field":"s","type":"nominal","legend":null}}},
 {"data":{"name":"d27"},"transform":[{"filter":"datum.p==0"}],"mark":{"type":"point","shape":"M0,-1L0.225,-0.309L0.951,-0.309L0.363,0.118L0.588,0.809L0,0.382L-0.588,0.809L-0.363,0.118L-0.951,-0.309L-0.225,-0.309Z","size":1800,"filled":true,"opacity":1},"encoding":{"x":{"field":"x","type":"quantitative","axis":null},"y":{"field":"y","type":"quantitative","axis":null},"color":{"field":"s","type":"nominal","legend":null}}},
 {"data":{"name":"d27"},"transform":[{"filter":"datum.p==1"}],"mark":{"type":"point","shape":"circle","size":190,"filled":false,"fill":"white","strokeWidth":2.8,"opacity":1,"clip":true},"encoding":{"x":{"field":"x","type":"quantitative","axis":null},"y":{"field":"y","type":"quantitative","axis":null},"color":{"field":"s","type":"nominal","legend":null}}},
 {"data":{"values":[{}]},"mark":{"type":"text","text":"27GeV","fontSize":46,"fontWeight":"bold","align":"left","baseline":"alphabetic","color":"black"},"encoding":{"x":{"datum":0.18,"type":"quantitative","axis":null},"y":{"datum":-1.44,"type":"quantitative","axis":null}}}
]},
{"width":326,"height":795,"resolve":{"axis":{"x":"independent","y":"independent"}},"layer":[
 {"data":{"values":[{}]},"mark":{"type":"rule","color":"#FF0000","strokeWidth":3,"strokeDash":[16,11]},"encoding":{"y":{"datum":1,"type":"quantitative","axis":null}}},
 {"data":{"name":"d39"},"mark":{"type":"rule","strokeWidth":2.8,"clip":true},"encoding":{
   "x":{"field":"x","type":"quantitative","scale":{"domain":[0,1.155],"nice":false,"zero":false},"axis":{"title":null,"orient":"bottom","values":[0,0.2,0.4,0.6,0.8,1],"tickSize":-15,"labelExpr":"datum.value==0 ? ')' : ''+datum.value"}},
   "y":{"field":"lo","type":"quantitative","scale":{"domain":[-2.8,6.2],"nice":false,"zero":false},"axis":{"title":null,"orient":"left","values":[-2,-1,0,1,2,3,4,5,6],"tickSize":-10,"labels":false}},
   "y2":{"field":"hi"},
   "color":{"field":"s","type":"nominal","scale":{"domain":["s1","s2","s3","s4"],"range":["#CC22CC","#0000FF","#1A8A1A","#FF0000"]},"legend":null}}},
 {"data":{"name":"d39"},"transform":[{"fold":["lo","hi","slo","shi"],"as":["k","v"]}],"mark":{"type":"point","shape":"M-1,0L1,0","size":250,"strokeWidth":3.5,"filled":false,"opacity":1,"clip":true},"encoding":{
   "x":{"field":"x","type":"quantitative","axis":{"title":null,"orient":"bottom","values":[0.04,0.08,0.12,0.16,0.24,0.28,0.32,0.36,0.44,0.48,0.52,0.56,0.64,0.68,0.72,0.76,0.84,0.88,0.92,0.96,1.04,1.08,1.12],"tickSize":-7,"labels":false}},
   "y":{"field":"v","type":"quantitative","axis":{"title":null,"orient":"left","values":[-2.8,-2.6,-2.4,-2.2,-1.8,-1.6,-1.4,-1.2,-0.8,-0.6,-0.4,-0.2,0.2,0.4,0.6,0.8,1.2,1.4,1.6,1.8,2.2,2.4,2.6,2.8,3.2,3.4,3.6,3.8,4.2,4.4,4.6,4.8,5.2,5.4,5.6,5.8],"tickSize":-6,"labels":false}},
   "color":{"field":"s","type":"nominal","legend":null}}},
 {"data":{"name":"d39"},"transform":[{"filter":"datum.p==0"}],"mark":{"type":"point","shape":"M0,-1L0.225,-0.309L0.951,-0.309L0.363,0.118L0.588,0.809L0,0.382L-0.588,0.809L-0.363,0.118L-0.951,-0.309L-0.225,-0.309Z","size":1800,"filled":true,"opacity":1},"encoding":{"x":{"field":"x","type":"quantitative","axis":null},"y":{"field":"y","type":"quantitative","axis":null},"color":{"field":"s","type":"nominal","legend":null}}},
 {"data":{"name":"d39"},"transform":[{"filter":"datum.p==1"}],"mark":{"type":"point","shape":"circle","size":190,"filled":false,"fill":"white","strokeWidth":2.8,"opacity":1,"clip":true},"encoding":{"x":{"field":"x","type":"quantitative","axis":null},"y":{"field":"y","type":"quantitative","axis":null},"color":{"field":"s","type":"nominal","legend":null}}},
 {"data":{"values":[{}]},"mark":{"type":"text","text":"39GeV","fontSize":46,"fontWeight":"bold","align":"left","baseline":"alphabetic","color":"black"},"encoding":{"x":{"datum":0.17,"type":"quantitative","axis":null},"y":{"datum":-1.44,"type":"quantitative","axis":null}}}
]},
{"width":326,"height":795,"resolve":{"axis":{"x":"independent","y":"independent"}},"layer":[
 {"data":{"values":[{}]},"mark":{"type":"rule","color":"#FF0000","strokeWidth":3,"strokeDash":[16,11]},"encoding":{"y":{"datum":1,"type":"quantitative","axis":null}}},
 {"data":{"name":"d624"},"mark":{"type":"rule","strokeWidth":2.8,"clip":true},"encoding":{
   "x":{"field":"x","type":"quantitative","scale":{"domain":[0,1.155],"nice":false,"zero":false},"axis":{"title":null,"orient":"bottom","values":[0,0.2,0.4,0.6,0.8,1],"tickSize":-15,"labelExpr":"datum.value==0 ? ')' : ''+datum.value"}},
   "y":{"field":"lo","type":"quantitative","scale":{"domain":[-2.8,6.2],"nice":false,"zero":false},"axis":{"title":null,"orient":"left","values":[-2,-1,0,1,2,3,4,5,6],"tickSize":-10,"labels":false}},
   "y2":{"field":"hi"},
   "color":{"field":"s","type":"nominal","scale":{"domain":["s1","s2","s3","s4"],"range":["#CC22CC","#0000FF","#1A8A1A","#FF0000"]},"legend":null}}},
 {"data":{"name":"d624"},"transform":[{"fold":["lo","hi","slo","shi"],"as":["k","v"]}],"mark":{"type":"point","shape":"M-1,0L1,0","size":250,"strokeWidth":3.5,"filled":false,"opacity":1,"clip":true},"encoding":{
   "x":{"field":"x","type":"quantitative","axis":{"title":null,"orient":"bottom","values":[0.04,0.08,0.12,0.16,0.24,0.28,0.32,0.36,0.44,0.48,0.52,0.56,0.64,0.68,0.72,0.76,0.84,0.88,0.92,0.96,1.04,1.08,1.12],"tickSize":-7,"labels":false}},
   "y":{"field":"v","type":"quantitative","axis":{"title":null,"orient":"left","values":[-2.8,-2.6,-2.4,-2.2,-1.8,-1.6,-1.4,-1.2,-0.8,-0.6,-0.4,-0.2,0.2,0.4,0.6,0.8,1.2,1.4,1.6,1.8,2.2,2.4,2.6,2.8,3.2,3.4,3.6,3.8,4.2,4.4,4.6,4.8,5.2,5.4,5.6,5.8],"tickSize":-6,"labels":false}},
   "color":{"field":"s","type":"nominal","legend":null}}},
 {"data":{"name":"d624"},"transform":[{"filter":"datum.p==0"}],"mark":{"type":"point","shape":"M0,-1L0.225,-0.309L0.951,-0.309L0.363,0.118L0.588,0.809L0,0.382L-0.588,0.809L-0.363,0.118L-0.951,-0.309L-0.225,-0.309Z","size":1800,"filled":true,"opacity":1},"encoding":{"x":{"field":"x","type":"quantitative","axis":null},"y":{"field":"y","type":"quantitative","axis":null},"color":{"field":"s","type":"nominal","legend":null}}},
 {"data":{"name":"d624"},"transform":[{"filter":"datum.p==1"}],"mark":{"type":"point","shape":"circle","size":190,"filled":false,"fill":"white","strokeWidth":2.8,"opacity":1,"clip":true},"encoding":{"x":{"field":"x","type":"quantitative","axis":null},"y":{"field":"y","type":"quantitative","axis":null},"color":{"field":"s","type":"nominal","legend":null}}},
 {"data":{"values":[{}]},"mark":{"type":"text","text":"62.4GeV","fontSize":46,"fontWeight":"bold","align":"left","baseline":"alphabetic","color":"black"},"encoding":{"x":{"datum":0.18,"type":"quantitative","axis":null},"y":{"datum":-1.44,"type":"quantitative","axis":null}}}
]},
{"width":323,"height":795,"resolve":{"axis":{"x":"independent","y":"independent"}},"layer":[
 {"data":{"values":[{}]},"mark":{"type":"rule","color":"#FF0000","strokeWidth":3,"strokeDash":[16,11]},"encoding":{"y":{"datum":1,"type":"quantitative","axis":null}}},
 {"data":{"name":"d200"},"mark":{"type":"rule","strokeWidth":2.8,"clip":true},"encoding":{
   "x":{"field":"x","type":"quantitative","scale":{"domain":[0,1.145],"nice":false,"zero":false},"axis":{"title":null,"orient":"bottom","values":[0,0.2,0.4,0.6,0.8,1],"tickSize":-15,"labelExpr":"datum.value==0 ? ')' : ''+datum.value"}},
   "y":{"field":"lo","type":"quantitative","scale":{"domain":[-2.8,6.2],"nice":false,"zero":false},"axis":{"title":null,"orient":"left","values":[-2,-1,0,1,2,3,4,5,6],"tickSize":-10,"labels":false}},
   "y2":{"field":"hi"},
   "color":{"field":"s","type":"nominal","scale":{"domain":["s1","s2","s3","s4"],"range":["#CC22CC","#0000FF","#1A8A1A","#FF0000"]},"legend":null}}},
 {"data":{"name":"d200"},"transform":[{"fold":["lo","hi","slo","shi"],"as":["k","v"]}],"mark":{"type":"point","shape":"M-1,0L1,0","size":250,"strokeWidth":3.5,"filled":false,"opacity":1,"clip":true},"encoding":{
   "x":{"field":"x","type":"quantitative","axis":{"title":null,"orient":"bottom","values":[0.04,0.08,0.12,0.16,0.24,0.28,0.32,0.36,0.44,0.48,0.52,0.56,0.64,0.68,0.72,0.76,0.84,0.88,0.92,0.96,1.04,1.08,1.12],"tickSize":-7,"labels":false}},
   "y":{"field":"v","type":"quantitative","axis":{"title":null,"orient":"left","values":[-2.8,-2.6,-2.4,-2.2,-1.8,-1.6,-1.4,-1.2,-0.8,-0.6,-0.4,-0.2,0.2,0.4,0.6,0.8,1.2,1.4,1.6,1.8,2.2,2.4,2.6,2.8,3.2,3.4,3.6,3.8,4.2,4.4,4.6,4.8,5.2,5.4,5.6,5.8],"tickSize":-6,"labels":false}},
   "color":{"field":"s","type":"nominal","legend":null}}},
 {"data":{"name":"d200"},"transform":[{"filter":"datum.p==0"}],"mark":{"type":"point","shape":"M0,-1L0.225,-0.309L0.951,-0.309L0.363,0.118L0.588,0.809L0,0.382L-0.588,0.809L-0.363,0.118L-0.951,-0.309L-0.225,-0.309Z","size":1800,"filled":true,"opacity":1},"encoding":{"x":{"field":"x","type":"quantitative","axis":null},"y":{"field":"y","type":"quantitative","axis":null},"color":{"field":"s","type":"nominal","legend":null}}},
 {"data":{"name":"d200"},"transform":[{"filter":"datum.p==1"}],"mark":{"type":"point","shape":"circle","size":190,"filled":false,"fill":"white","strokeWidth":2.8,"opacity":1,"clip":true},"encoding":{"x":{"field":"x","type":"quantitative","axis":null},"y":{"field":"y","type":"quantitative","axis":null},"color":{"field":"s","type":"nominal","legend":null}}},
 {"data":{"values":[{}]},"mark":{"type":"text","text":"200GeV","fontSize":46,"fontWeight":"bold","align":"left","baseline":"alphabetic","color":"black"},"encoding":{"x":{"datum":0.18,"type":"quantitative","axis":null},"y":{"datum":-1.44,"type":"quantitative","axis":null}}}
]}
]
}
